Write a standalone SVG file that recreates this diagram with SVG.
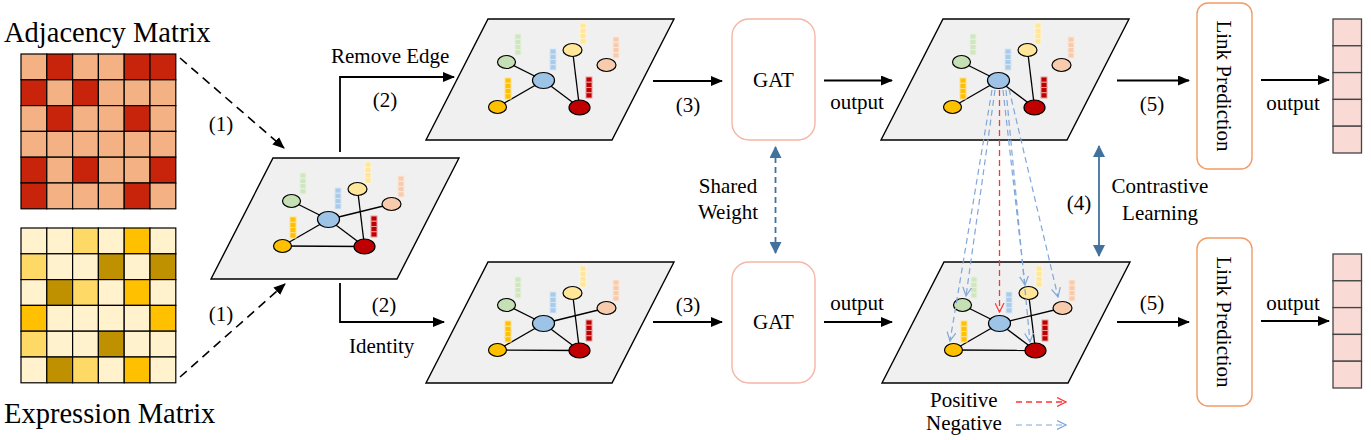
<svg xmlns="http://www.w3.org/2000/svg" xmlns:xlink="http://www.w3.org/1999/xlink" width="1371" height="440" viewBox="0 0 1371 440">
<style>
text{font-family:"Liberation Serif","Times New Roman",serif;font-size:21px;fill:#000}
.title{font-size:28.5px}
.mid{text-anchor:middle}
.pg{fill:#f0f0f0;stroke:#000;stroke-width:1.4}
.ed{stroke:#000;stroke-width:1.3;fill:none}
.nd{stroke:#000;stroke-width:1.2}
.cell{stroke:#000;stroke-width:1.2}
.a1{fill:#f4b183}.a2{fill:#c8230b}
.e0{fill:#fff2cc}.e1{fill:#ffd966}.e2{fill:#ffc000}.e3{fill:#bf9000}
.arr{stroke:#000;stroke-width:1.8;fill:none;marker-end:url(#ah)}
.dash{stroke:#000;stroke-width:1.6;fill:none;stroke-dasharray:9 6;marker-end:url(#ah)}
.box{fill:#fff;stroke:#f4b6a6;stroke-width:1.4}
.lp{fill:#fff;stroke:#f19c65;stroke-width:1.4}
.vec{fill:#f9dad5;stroke:#444;stroke-width:1.3}
.neg{stroke:#7fa7d9;stroke-width:1.2;fill:none;stroke-dasharray:6 4;marker-end:url(#nh)}
.pos{stroke:#ff3333;stroke-width:1.3;fill:none;stroke-dasharray:6 4;marker-end:url(#ph)}
.bar rect{stroke-width:0.8}
</style>
<defs>
<marker id="ah" markerWidth="12" markerHeight="10" refX="11" refY="5" orient="auto" markerUnits="userSpaceOnUse"><path d="M0,0 L12,5 L0,10 Z" fill="#000"/></marker>
<marker id="bh" markerWidth="12" markerHeight="12" refX="11" refY="6" orient="auto-start-reverse" markerUnits="userSpaceOnUse"><path d="M0,0 L12,6 L0,12 Z" fill="#41719c"/></marker>
<marker id="nh" markerWidth="10" markerHeight="10" refX="9" refY="5" orient="auto" markerUnits="userSpaceOnUse"><path d="M0,0.5 L9,5 L0,9.5" fill="none" stroke="#7fa7d9" stroke-width="1.2"/></marker>
<marker id="ph" markerWidth="10" markerHeight="10" refX="9" refY="5" orient="auto" markerUnits="userSpaceOnUse"><path d="M0,0.5 L9,5 L0,9.5" fill="none" stroke="#ff3333" stroke-width="1.2"/></marker>
<g id="pgon"><polygon class="pg" points="0,0 186,0 124,121 -62,121"/></g>
<g id="edgesFull">
<line class="ed" x1="18.5" y1="43" x2="55.5" y2="61.5"/>
<line class="ed" x1="55.5" y1="61.5" x2="118.5" y2="46"/>
<line class="ed" x1="84.5" y1="31" x2="91.5" y2="88.5"/>
<line class="ed" x1="55.5" y1="61.5" x2="9.5" y2="88"/>
<line class="ed" x1="55.5" y1="61.5" x2="91.5" y2="88.5"/>
<line class="ed" x1="9.5" y1="88" x2="91.5" y2="88.5"/>
</g>
<g id="edgesCut">
<line class="ed" x1="18.5" y1="43" x2="55.5" y2="61.5"/>
<line class="ed" x1="84.5" y1="31" x2="91.5" y2="88.5"/>
<line class="ed" x1="55.5" y1="61.5" x2="9.5" y2="88"/>
<line class="ed" x1="55.5" y1="61.5" x2="91.5" y2="88.5"/>
</g>
<g id="bars4"><rect x="0" y="0" width="6" height="5.25"/><rect x="0" y="5.25" width="6" height="5.25"/><rect x="0" y="10.5" width="6" height="5.25"/><rect x="0" y="15.75" width="6" height="5.25"/></g>
<g id="nodes">
<g class="bar" fill="#cfe6c0" stroke="#e6f2de"><use xlink:href="#bars4" x="27" y="15"/></g>
<g class="bar" fill="#a9cbea" stroke="#d6e6f5"><use xlink:href="#bars4" x="62" y="30"/></g>
<g class="bar" fill="#ffe699" stroke="#fff3cf"><use xlink:href="#bars4" x="92" y="4"/></g>
<g class="bar" fill="#f8cbad" stroke="#fce6d8"><use xlink:href="#bars4" x="125" y="18"/></g>
<g class="bar" fill="#ffc000" stroke="#ffe08a"><use xlink:href="#bars4" x="17" y="59"/></g>
<g class="bar" fill="#c00000" stroke="#e89a9a"><use xlink:href="#bars4" x="98" y="58"/></g>
<ellipse class="nd" cx="18.5" cy="43" rx="9" ry="6.5" fill="#c5e0b4"/>
<ellipse class="nd" cx="84.5" cy="31" rx="9.5" ry="6.5" fill="#ffe699"/>
<ellipse class="nd" cx="118.5" cy="46" rx="9.5" ry="6.5" fill="#f8cbad"/>
<ellipse class="nd" cx="55.5" cy="61.5" rx="11" ry="8" fill="#9dc3e6"/>
<ellipse class="nd" cx="9.5" cy="88" rx="9" ry="6.5" fill="#ffc000"/>
<ellipse class="nd" cx="91.5" cy="88.5" rx="10.5" ry="7.5" fill="#c00000"/>
</g>
</defs>

<g id="adjacency-matrix">
<text class="title" x="4" y="42">Adjacency Matrix</text>
<g transform="translate(21,54)">
<rect class="cell a1" x="0" y="0" width="25.8" height="25.8"/><rect class="cell a2" x="25.8" y="0" width="25.8" height="25.8"/><rect class="cell a1" x="51.6" y="0" width="25.8" height="25.8"/><rect class="cell a1" x="77.4" y="0" width="25.8" height="25.8"/><rect class="cell a2" x="103.2" y="0" width="25.8" height="25.8"/><rect class="cell a2" x="129" y="0" width="25.8" height="25.8"/>
<rect class="cell a2" x="0" y="25.8" width="25.8" height="25.8"/><rect class="cell a1" x="25.8" y="25.8" width="25.8" height="25.8"/><rect class="cell a2" x="51.6" y="25.8" width="25.8" height="25.8"/><rect class="cell a1" x="77.4" y="25.8" width="25.8" height="25.8"/><rect class="cell a1" x="103.2" y="25.8" width="25.8" height="25.8"/><rect class="cell a1" x="129" y="25.8" width="25.8" height="25.8"/>
<rect class="cell a1" x="0" y="51.6" width="25.8" height="25.8"/><rect class="cell a2" x="25.8" y="51.6" width="25.8" height="25.8"/><rect class="cell a1" x="51.6" y="51.6" width="25.8" height="25.8"/><rect class="cell a1" x="77.4" y="51.6" width="25.8" height="25.8"/><rect class="cell a2" x="103.2" y="51.6" width="25.8" height="25.8"/><rect class="cell a1" x="129" y="51.6" width="25.8" height="25.8"/>
<rect class="cell a1" x="0" y="77.4" width="25.8" height="25.8"/><rect class="cell a1" x="25.8" y="77.4" width="25.8" height="25.8"/><rect class="cell a1" x="51.6" y="77.4" width="25.8" height="25.8"/><rect class="cell a1" x="77.4" y="77.4" width="25.8" height="25.8"/><rect class="cell a1" x="103.2" y="77.4" width="25.8" height="25.8"/><rect class="cell a1" x="129" y="77.4" width="25.8" height="25.8"/>
<rect class="cell a2" x="0" y="103.2" width="25.8" height="25.8"/><rect class="cell a1" x="25.8" y="103.2" width="25.8" height="25.8"/><rect class="cell a2" x="51.6" y="103.2" width="25.8" height="25.8"/><rect class="cell a1" x="77.4" y="103.2" width="25.8" height="25.8"/><rect class="cell a1" x="103.2" y="103.2" width="25.8" height="25.8"/><rect class="cell a2" x="129" y="103.2" width="25.8" height="25.8"/>
<rect class="cell a2" x="0" y="129" width="25.8" height="25.8"/><rect class="cell a1" x="25.8" y="129" width="25.8" height="25.8"/><rect class="cell a1" x="51.6" y="129" width="25.8" height="25.8"/><rect class="cell a1" x="77.4" y="129" width="25.8" height="25.8"/><rect class="cell a2" x="103.2" y="129" width="25.8" height="25.8"/><rect class="cell a1" x="129" y="129" width="25.8" height="25.8"/>
</g>
</g>

<g id="expression-matrix">
<text class="title" x="4" y="423">Expression Matrix</text>
<g transform="translate(21,228)">
<rect class="cell e0" x="0" y="0" width="25.8" height="25.8"/><rect class="cell e0" x="25.8" y="0" width="25.8" height="25.8"/><rect class="cell e1" x="51.6" y="0" width="25.8" height="25.8"/><rect class="cell e0" x="77.4" y="0" width="25.8" height="25.8"/><rect class="cell e2" x="103.2" y="0" width="25.8" height="25.8"/><rect class="cell e0" x="129" y="0" width="25.8" height="25.8"/>
<rect class="cell e1" x="0" y="25.8" width="25.8" height="25.8"/><rect class="cell e0" x="25.8" y="25.8" width="25.8" height="25.8"/><rect class="cell e0" x="51.6" y="25.8" width="25.8" height="25.8"/><rect class="cell e3" x="77.4" y="25.8" width="25.8" height="25.8"/><rect class="cell e0" x="103.2" y="25.8" width="25.8" height="25.8"/><rect class="cell e3" x="129" y="25.8" width="25.8" height="25.8"/>
<rect class="cell e0" x="0" y="51.6" width="25.8" height="25.8"/><rect class="cell e3" x="25.8" y="51.6" width="25.8" height="25.8"/><rect class="cell e1" x="51.6" y="51.6" width="25.8" height="25.8"/><rect class="cell e0" x="77.4" y="51.6" width="25.8" height="25.8"/><rect class="cell e2" x="103.2" y="51.6" width="25.8" height="25.8"/><rect class="cell e0" x="129" y="51.6" width="25.8" height="25.8"/>
<rect class="cell e2" x="0" y="77.4" width="25.8" height="25.8"/><rect class="cell e0" x="25.8" y="77.4" width="25.8" height="25.8"/><rect class="cell e0" x="51.6" y="77.4" width="25.8" height="25.8"/><rect class="cell e0" x="77.4" y="77.4" width="25.8" height="25.8"/><rect class="cell e0" x="103.2" y="77.4" width="25.8" height="25.8"/><rect class="cell e2" x="129" y="77.4" width="25.8" height="25.8"/>
<rect class="cell e1" x="0" y="103.2" width="25.8" height="25.8"/><rect class="cell e0" x="25.8" y="103.2" width="25.8" height="25.8"/><rect class="cell e0" x="51.6" y="103.2" width="25.8" height="25.8"/><rect class="cell e3" x="77.4" y="103.2" width="25.8" height="25.8"/><rect class="cell e0" x="103.2" y="103.2" width="25.8" height="25.8"/><rect class="cell e0" x="129" y="103.2" width="25.8" height="25.8"/>
<rect class="cell e0" x="0" y="129" width="25.8" height="25.8"/><rect class="cell e3" x="25.8" y="129" width="25.8" height="25.8"/><rect class="cell e1" x="51.6" y="129" width="25.8" height="25.8"/><rect class="cell e0" x="77.4" y="129" width="25.8" height="25.8"/><rect class="cell e2" x="103.2" y="129" width="25.8" height="25.8"/><rect class="cell e0" x="129" y="129" width="25.8" height="25.8"/>
</g>
</g>

<g id="graph-input" transform="translate(273,158)">
<use xlink:href="#pgon"/><use xlink:href="#edgesFull"/><use xlink:href="#nodes"/>
</g>
<g id="graph-remove-edge" transform="translate(488,19)">
<use xlink:href="#pgon"/><use xlink:href="#edgesCut"/><use xlink:href="#nodes"/>
</g>
<g id="graph-identity" transform="translate(488,262)">
<use xlink:href="#pgon"/><use xlink:href="#edgesFull"/><use xlink:href="#nodes"/>
</g>
<g id="graph-out-top" transform="translate(943,19)">
<use xlink:href="#pgon"/><use xlink:href="#edgesCut"/><use xlink:href="#nodes"/>
</g>
<g id="graph-out-bottom" transform="translate(944,262)">
<use xlink:href="#pgon"/><use xlink:href="#edgesFull"/><use xlink:href="#nodes"/>
</g>

<g id="gat-top"><rect class="box" x="732" y="19" width="83" height="121" rx="17"/><text class="mid" x="773.5" y="87">GAT</text></g>
<g id="gat-bottom"><rect class="box" x="732" y="262" width="83" height="121" rx="17"/><text class="mid" x="773.5" y="329">GAT</text></g>

<g id="lp-top"><rect class="lp" x="1197" y="3" width="55" height="166" rx="11"/><text class="mid" transform="translate(1217,86) rotate(90)">Link Prediction</text></g>
<g id="lp-bottom"><rect class="lp" x="1197" y="238" width="55" height="168" rx="11"/><text class="mid" transform="translate(1217,322) rotate(90)">Link Prediction</text></g>

<g id="vec-top">
<rect class="vec" x="1333" y="19" width="28.5" height="26.8"/><rect class="vec" x="1333" y="45.8" width="28.5" height="26.8"/><rect class="vec" x="1333" y="72.6" width="28.5" height="26.8"/><rect class="vec" x="1333" y="99.4" width="28.5" height="26.8"/><rect class="vec" x="1333" y="126.2" width="28.5" height="26.8"/>
</g>
<g id="vec-bottom">
<rect class="vec" x="1333" y="254" width="28.5" height="26.8"/><rect class="vec" x="1333" y="280.8" width="28.5" height="26.8"/><rect class="vec" x="1333" y="307.6" width="28.5" height="26.8"/><rect class="vec" x="1333" y="334.4" width="28.5" height="26.8"/><rect class="vec" x="1333" y="361.2" width="28.5" height="26.8"/>
</g>

<g id="connectors">
<line class="dash" x1="180" y1="58" x2="284" y2="148"/>
<line class="dash" x1="180" y1="377" x2="285" y2="284"/>
<path class="arr" d="M340,152 V77 H454"/>
<path class="arr" d="M340,283 V322 H444"/>
<line class="arr" x1="653" y1="81" x2="722" y2="81"/>
<line class="arr" x1="653" y1="322" x2="722" y2="322"/>
<line class="arr" x1="824" y1="80.5" x2="892" y2="80.5"/>
<line class="arr" x1="824" y1="322" x2="892" y2="322"/>
<line class="arr" x1="1117" y1="80.5" x2="1189" y2="80.5"/>
<line class="arr" x1="1117" y1="322" x2="1189" y2="322"/>
<line class="arr" x1="1261" y1="80" x2="1329" y2="80"/>
<line class="arr" x1="1261" y1="321" x2="1329" y2="321"/>
<line x1="775.5" y1="147" x2="775.5" y2="253" stroke="#41719c" stroke-width="1.8" stroke-dasharray="6 4" marker-start="url(#bh)" marker-end="url(#bh)"/>
<line x1="1099" y1="146" x2="1099" y2="256" stroke="#41719c" stroke-width="1.8" marker-start="url(#bh)" marker-end="url(#bh)"/>
<line class="neg" x1="995" y1="90" x2="966" y2="296"/>
<line class="neg" x1="992" y1="90" x2="950" y2="341"/>
<line class="neg" x1="1003" y1="90" x2="1025" y2="285"/>
<line class="neg" x1="1006" y1="90" x2="1030" y2="342"/>
<line class="neg" x1="1009" y1="89" x2="1058" y2="297"/>
<line class="pos" x1="999.5" y1="90" x2="999.5" y2="312"/>
<line class="pos" x1="1016" y1="402" x2="1066" y2="402"/>
<line class="neg" x1="1016" y1="425" x2="1066" y2="425"/>
</g>

<g id="labels">
<text class="mid" x="221" y="131">(1)</text>
<text class="mid" x="221" y="321">(1)</text>
<text x="331" y="63">Remove Edge</text>
<text class="mid" x="385" y="107">(2)</text>
<text class="mid" x="384" y="312">(2)</text>
<text x="349" y="353">Identity</text>
<text class="mid" x="688" y="112">(3)</text>
<text class="mid" x="688" y="312">(3)</text>
<text class="mid" x="728" y="193">Shared</text>
<text class="mid" x="728" y="219">Weight</text>
<text class="mid" x="857" y="109">output</text>
<text class="mid" x="857" y="310">output</text>
<text class="mid" x="1152" y="111">(5)</text>
<text class="mid" x="1152" y="310">(5)</text>
<text class="mid" x="1079" y="210">(4)</text>
<text class="mid" x="1160" y="193">Contrastive</text>
<text class="mid" x="1160" y="220">Learning</text>
<text class="mid" x="1293" y="110">output</text>
<text class="mid" x="1293" y="310">output</text>
<text x="930" y="407">Positive</text>
<text x="926" y="430">Negative</text>
</g>
</svg>
